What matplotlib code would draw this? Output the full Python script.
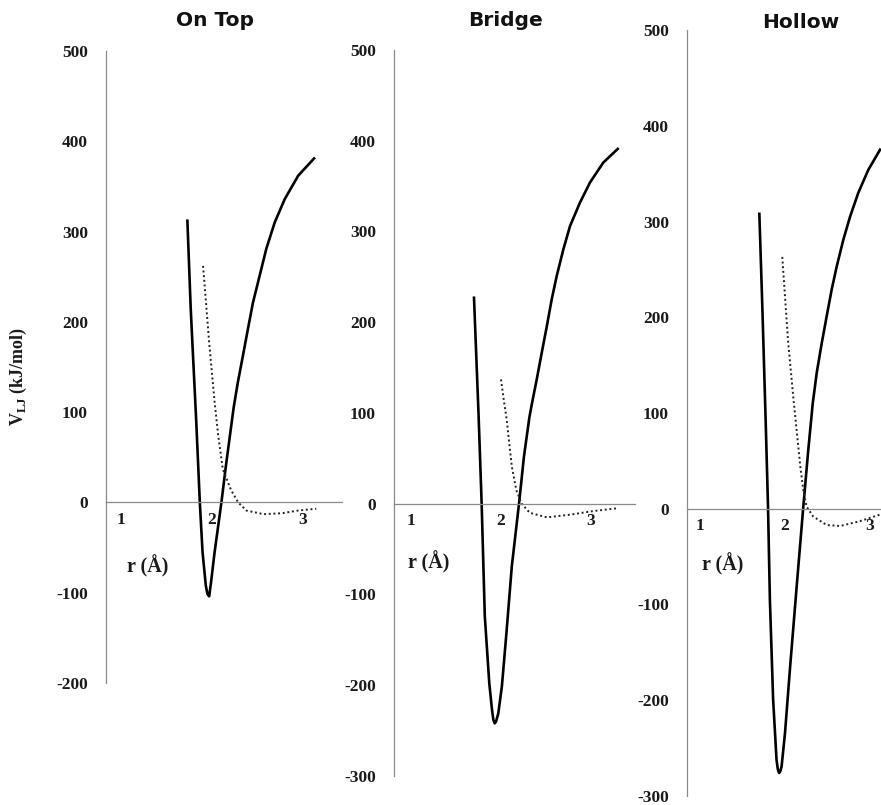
import matplotlib
matplotlib.use("Agg")
import matplotlib.pyplot as plt

plt.rcParams['mathtext.fontset'] = 'custom'
plt.rcParams['mathtext.rm'] = 'Liberation Serif:bold'
plt.rcParams['mathtext.bf'] = 'Liberation Serif:bold'

# ---------------- data ----------------
panel_titles = ["On Top", "Bridge", "Hollow"]
x_ticks = [1, 2, 3]
x_tick_labels = ["1", "2", "3"]

# On Top
ontop_solid_x = [1.73, 1.767, 1.803, 1.828, 1.867, 1.897, 1.933, 1.95, 1.97, 1.99,
                 2.03, 2.105, 2.15, 2.20, 2.24, 2.286, 2.341, 2.397, 2.452, 2.526,
                 2.60, 2.692, 2.803, 2.952, 3.126]
ontop_solid_y = [312, 214, 140, 89, 0, -55, -92, -101, -104, -89,
                 -55, 0, 37, 75, 105, 133, 162, 192, 221, 251,
                 281, 310, 336, 362, 381]
ontop_dot_x = [1.903, 1.97, 2.03, 2.07, 2.12, 2.21, 2.29, 2.38, 2.57,
               2.77, 2.95, 3.15]
ontop_dot_y = [262, 177, 111, 74, 37, 14, 0, -9, -13,
               -12, -9, -7]

# Bridge
bridge_solid_x = [1.70, 1.75, 1.785, 1.82, 1.87, 1.90, 1.915, 1.93, 1.945, 1.97,
                  2.01, 2.06, 2.12, 2.20, 2.255, 2.315, 2.341, 2.397, 2.452, 2.508,
                  2.563, 2.619, 2.692, 2.767, 2.878, 2.989, 3.137, 3.297]
bridge_solid_y = [227, 100, 0, -124, -198, -227, -238, -242, -240, -231,
                  -201, -143, -69, 0, 52, 95, 109, 137, 166, 195,
                  225, 251, 280, 306, 332, 354, 376, 391]
bridge_dot_x = [2.00, 2.03, 2.063, 2.12, 2.17, 2.23, 2.32, 2.51, 2.77, 3.03, 3.29]
bridge_dot_y = [137, 115, 93, 41, 15, 0, -10, -15, -12, -8, -5]

# Hollow
hollow_solid_x = [1.698, 1.733, 1.772, 1.80, 1.822, 1.86, 1.90, 1.915, 1.93, 1.945,
                  1.96, 2.00, 2.06, 2.14, 2.215, 2.27, 2.326, 2.373, 2.432,
                  2.49, 2.549, 2.608, 2.686, 2.765, 2.862, 2.98, 3.118]
hollow_solid_y = [308, 211, 93, 2, -95, -199, -262, -272, -276, -274,
                  -269, -234, -165, -78, 2, 58, 110, 142, 173,
                  201, 229, 253, 281, 305, 330, 354, 375]
hollow_dot_x = [1.968, 2.035, 2.10, 2.14, 2.18, 2.22, 2.255, 2.33, 2.49,
                2.65, 2.88, 3.12]
hollow_dot_y = [263, 176, 114, 79, 44, 16, 2, -8, -17,
                -18, -13, -6]

y_ticks_ontop = [-200, -100, 0, 100, 200, 300, 400, 500]
y_ticks_other = [-300, -200, -100, 0, 100, 200, 300, 400, 500]

# ---------------- layout ----------------
W, H = 881, 805
fig = plt.figure(figsize=(W / 100, H / 100), dpi=100)

def px_axes(left, right, top, bottom):
    return fig.add_axes([left / W, 1 - bottom / H, (right - left) / W, (bottom - top) / H])

panels = [
    dict(box=(106, 342, 51, 683), xlim=(0.833, 3.434), ylim=(-200, 500),
         yt=y_ticks_ontop, sx=ontop_solid_x, sy=ontop_solid_y,
         dx=ontop_dot_x, dy=ontop_dot_y, title_px=(215, 20), rpos=(1.29, -71)),
    dict(box=(394, 635, 50, 776), xlim=(0.811, 3.489), ylim=(-300, 500),
         yt=y_ticks_other, sx=bridge_solid_x, sy=bridge_solid_y,
         dx=bridge_dot_x, dy=bridge_dot_y, title_px=(505, 21), rpos=(1.20, -65)),
    dict(box=(687, 881, 30, 796), xlim=(0.847, 3.129), ylim=(-300, 500),
         yt=y_ticks_other, sx=hollow_solid_x, sy=hollow_solid_y,
         dx=hollow_dot_x, dy=hollow_dot_y, title_px=(801, 22), rpos=(1.27, -58)),
]

axis_color = "#8a8a8a"
tick_font = dict(family="Liberation Serif", weight="bold", size=12.5)

for p, title in zip(panels, panel_titles):
    ax = px_axes(*p["box"])
    ax.set_xlim(*p["xlim"])
    ax.set_ylim(*p["ylim"])
    ax.patch.set_alpha(0)
    ax.plot(p["sx"], p["sy"], color="black", lw=1.9, solid_joinstyle="round",
            clip_on=False)
    ax.plot(p["dx"], p["dy"], color="#222222", lw=1.4, linestyle=(0, (1, 1.4)),
            clip_on=False)
    for s in ("top", "right"):
        ax.spines[s].set_visible(False)
    ax.spines["bottom"].set_position(("data", 0))
    ax.spines["bottom"].set_color(axis_color)
    ax.spines["left"].set_color(axis_color)
    ax.spines["bottom"].set_linewidth(0.9)
    ax.spines["left"].set_linewidth(0.9)
    ax.set_xticks(x_ticks)
    ax.set_xticklabels(x_tick_labels, fontdict=tick_font)
    ax.set_yticks(p["yt"])
    ax.set_yticklabels([str(v) for v in p["yt"]], fontdict=tick_font)
    ax.tick_params(axis="both", length=0, colors="#1a1a1a")
    ax.tick_params(axis="y", pad=13)
    ax.tick_params(axis="x", pad=7)
    ax.text(p["rpos"][0], p["rpos"][1], "r (Å)", ha="center", va="center",
            family="Liberation Serif", weight="bold", size=14.5, color="#1a1a1a")
    fig.text(p["title_px"][0] / W, 1 - p["title_px"][1] / H, title,
             ha="center", va="center", family="DejaVu Sans", weight="bold",
             size=14.5, color="#111111")

fig.text(18 / W, 1 - 376 / H, r"V$_{\mathrm{LJ}}$ (kJ/mol)", rotation=90,
         ha="center", va="center", family="Liberation Serif", weight="bold",
         size=13, color="#1a1a1a")

fig.savefig("out.png", dpi=100)
